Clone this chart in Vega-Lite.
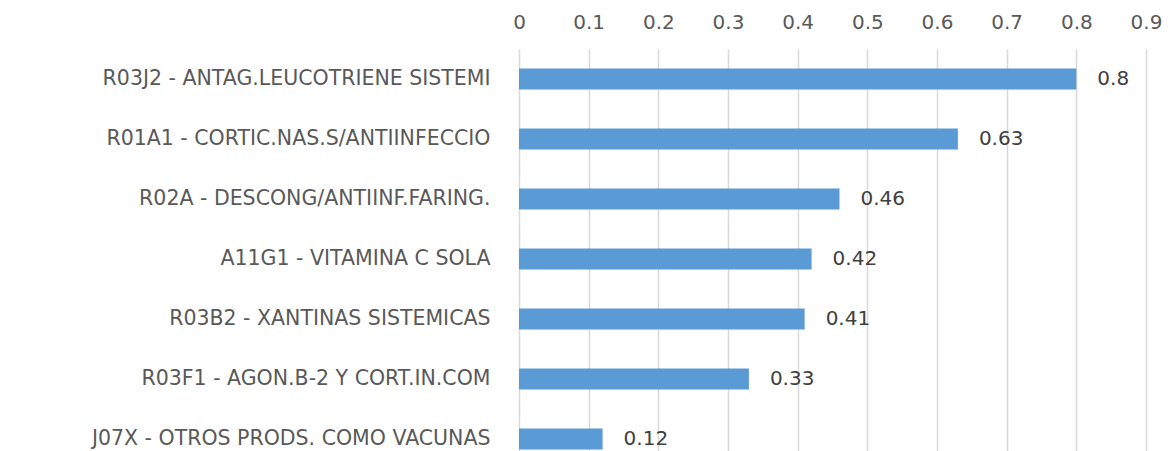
{
  "$schema": "https://vega.github.io/schema/vega-lite/v6.json",
  "autosize": {"type": "none"},
  "padding": {"left": 519, "top": 49, "right": 25, "bottom": 0},
  "width": 627,
  "height": 402,
  "background": "white",
  "config": {"view": {"stroke": null}, "font": "DejaVu Sans"},
  "data": {
    "values": [
      {"category": "R03J2 - ANTAG.LEUCOTRIENE SISTEMI", "value": 0.8},
      {"category": "R01A1 - CORTIC.NAS.S/ANTIINFECCIO", "value": 0.63},
      {"category": "R02A - DESCONG/ANTIINF.FARING.", "value": 0.46},
      {"category": "A11G1 - VITAMINA C SOLA", "value": 0.42},
      {"category": "R03B2 - XANTINAS SISTEMICAS", "value": 0.41},
      {"category": "R03F1 - AGON.B-2 Y CORT.IN.COM", "value": 0.33},
      {"category": "J07X - OTROS PRODS. COMO VACUNAS", "value": 0.12}
    ]
  },
  "encoding": {
    "y": {
      "field": "category",
      "type": "nominal",
      "sort": null,
      "scale": {"range": [0, 420], "paddingInner": 0.65, "paddingOuter": 0.325},
      "axis": {
        "title": null,
        "ticks": false,
        "domain": false,
        "labelPadding": 29,
        "labelFont": "DejaVu Sans",
        "labelFontSize": 20.5,
        "labelColor": "#595959",
        "labelLimit": 600
      }
    },
    "x": {
      "field": "value",
      "type": "quantitative",
      "scale": {"domain": [0, 0.9], "nice": false},
      "axis": {
        "orient": "top",
        "title": null,
        "values": [0, 0.1, 0.2, 0.3, 0.4, 0.5, 0.6, 0.7, 0.8, 0.9],
        "format": "~g",
        "ticks": false,
        "domain": false,
        "grid": true,
        "gridColor": "#d9d9d9",
        "gridWidth": 1.5,
        "labelPadding": 17,
        "labelFont": "DejaVu Sans",
        "labelFontSize": 20,
        "labelColor": "#595959",
        "labelFlush": false
      }
    }
  },
  "layer": [
    {"mark": {"type": "bar", "color": "#5B9BD5"}},
    {
      "mark": {"type": "text", "align": "left", "baseline": "middle", "dx": 21, "font": "DejaVu Sans", "fontSize": 20, "color": "#404040"},
      "encoding": {"text": {"field": "value", "type": "quantitative", "format": "~g"}}
    }
  ]
}
